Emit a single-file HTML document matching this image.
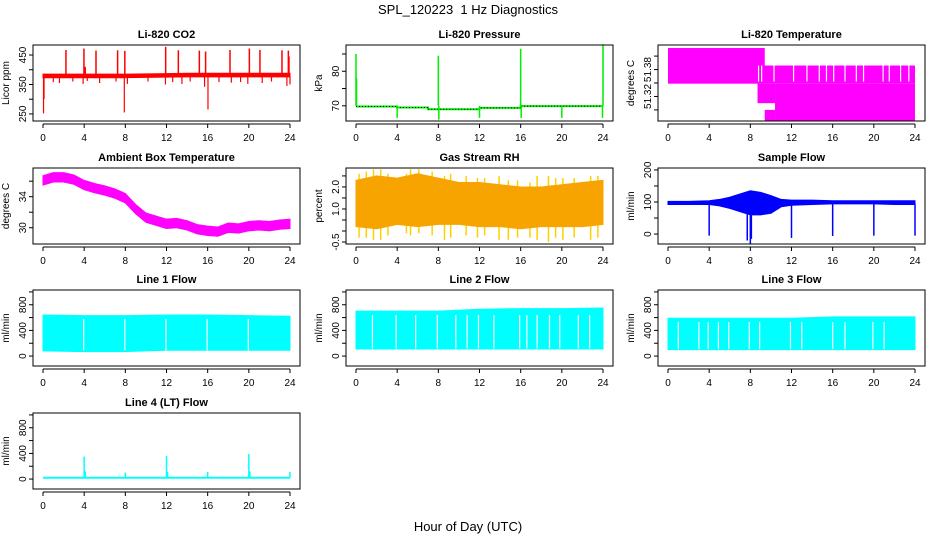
<!DOCTYPE html>
<html><head><meta charset="utf-8"><style>
body{margin:0;background:#fff;}
svg text{font-family:"Liberation Sans",Arial,sans-serif;}
</style></head><body>
<svg id="c" width="936" height="540" xmlns="http://www.w3.org/2000/svg">
<text x="468" y="14" text-anchor="middle" font-size="13" xml:space="preserve" style="white-space:pre">SPL_120223  1 Hz Diagnostics</text>
<text x="468" y="531" text-anchor="middle" font-size="13">Hour of Day (UTC)</text>
</svg>
<script>
// ---- data ----
const xTicks=[0,4,8,12,16,20,24];
// CO2
const co2Hours=[0,2,4,6,8,10,12,14,16,18,20,22,24];
const co2Lo=[373,373,373,373,373,374,375,376,376,376,376,376,376];
const co2Hi=[385,385,385,385,385,386,387,388,388,388,388,388,388];
const co2UpHours=[2.23,3.98,4.1,5.15,7.25,7.95,11.92,13.15,15.19,15.8,18.17,20.05,21.08,23.22,23.84,23.9];
const co2UpVals=[467,472,410,465,466,464,478,466,465,462,467,472,467,466,465,445];
const co2DnHours=[0.05,0.1,1,1.6,2.9,3.9,4.3,5.5,7.1,7.9,8.2,10.2,11.9,12.6,13.5,14.3,15.7,16.03,17.1,18.3,19.2,19.9,21.3,22.2,23.7,24];
const co2DnVals=[252,300,358,355,360,352,362,355,360,255,352,360,350,358,352,360,342,265,358,356,358,352,355,360,345,350];
// Pressure
const presHours=[0,4,4,7,7,12,12,16,16,24];
const presVals=[69.8,69.8,69.5,69.5,69.0,69.0,69.4,69.4,69.9,69.9];
const presSpikeHours=[0,0.05,4,8,8.05,12,16,16.05,20,24,23.95];
const presSpikeVals=[85,78,66.5,84.5,66,66.5,86.5,66.5,66.5,87.8,66.5];
// Li-820 temperature (bands of discrete values)
const ltStart=[0,8.7,8.7,9.4,10.4];
const ltEnd=[9.4,24,10.4,10.4,24];
const ltLo=[51.359,51.359,51.330,51.304,51.304];
const ltHi=[51.412,51.386,51.359,51.320,51.359];
const ltGapHours=[8.8,9.1,10.3,12.2,13.5,14.7,15.4,16.1,17.2,18.3,19.0,20.9,21.5,22.6,23.4];
// Ambient box temperature
const ambHours=[0,1,2,3,4,5,6,7,8,9,10,11,12,13,14,15,16,17,18,19,20,21,22,23,24];
const ambVals=[36.1,36.5,36.5,36.2,35.5,35.1,34.8,34.4,33.8,32.4,31.3,30.9,30.5,30.6,30.3,29.8,29.6,29.5,30.0,29.9,30.2,30.3,30.2,30.4,30.5];
// Gas stream RH
const rhHours=[0,2,4,6,8,10,12,14,16,18,20,22,24];
const rhLo=[0.2,0.1,0.3,0.2,0.3,0.3,0.2,0.2,0.1,0.2,0.2,0.2,0.3];
const rhHi=[2.3,2.5,2.4,2.6,2.4,2.2,2.2,2.1,2.0,2.0,2.1,2.2,2.3];
const rhSpikeHours=[0.3,1.0,1.7,2.4,3.1,4.9,5.3,6.1,7.4,8.6,9.2,10.7,11.8,12.5,13.9,14.8,15.7,16.9,17.6,18.7,19.4,20.1,21.2,22.8,23.5];
const rhSpikeHi=[2.6,2.7,2.8,2.8,2.6,2.6,2.8,2.8,2.7,2.5,2.6,2.5,2.4,2.4,2.5,2.3,2.3,2.2,2.5,2.5,2.4,2.4,2.4,2.5,2.5];
const rhSpikeLo=[-0.3,-0.3,-0.4,-0.4,-0.2,-0.1,-0.2,-0.1,-0.2,-0.4,-0.3,-0.2,-0.3,-0.2,-0.4,-0.4,-0.3,-0.3,-0.4,-0.5,-0.3,-0.4,-0.3,-0.4,-0.3];
// Sample flow
const sfHours=[0,2,4,5,6,7,8,9,10,11,12,14,16,18,20,22,24];
const sfLo=[92,92,92,88,80,70,60,60,65,85,90,92,94,94,94,92,92];
const sfHi=[102,102,104,108,115,125,135,130,120,108,106,106,104,104,104,104,104];
const sfDnHours=[4,7.7,8,8.1,12,16,20,24];
const sfDnVals=[-5,-20,-32,-15,-12,-6,-5,-5];
// Line flows
const l1Hours=[0,4,8,12,16,20,24];
const l1Hi=[640,630,630,640,640,630,620];
const l1Lo=[80,70,70,90,90,90,90];
const l1Gaps=[3.95,7.95,11.95,15.95,19.95];
const l2Hours=[0,4,8,12,16,20,24];
const l2Hi=[700,700,700,730,740,740,750];
const l2Lo=[110,110,110,110,110,110,110];
const l2Gaps=[1.6,3.9,5.8,7.9,9.7,10.8,11.9,13.4,15.9,16.6,17.6,18.8,19.8,21.6,22.7];
const l3Hours=[0,4,8,12,16,20,24];
const l3Hi=[590,590,590,590,610,610,610];
const l3Lo=[100,100,100,100,100,100,100];
const l3Gaps=[1.0,3.0,3.9,4.9,5.9,7.9,8.9,11.9,13.0,16.0,17.2,19.9,21.0];
// Line 4
const l4Hours=[4,4.1,8,12,12.1,16,20,20.1,24];
const l4Vals=[350,120,100,360,110,110,390,120,110];
const l4Base=20;

// ---- drawing ----
const NS='http://www.w3.org/2000/svg';
const svg=document.getElementById('c');
function mk(tag,attrs,parent){const e=document.createElementNS(NS,tag);for(const k in attrs)e.setAttribute(k,attrs[k]);(parent||svg).appendChild(e);return e;}
const colL=[33,346,658], W=267, rowT=[45,168,290,413], H=76;
function panel(col,row,title,ylab,ymin,ymax,yTicks,yLabels,name){
  const L=colL[col],T=rowT[row];
  const g=mk('g',{});
  
  
  const xs=h=>L+10+(h/24)*(W-20);
  const ys=v=>T+H-(v-ymin)/(ymax-ymin)*H;
  const t=mk('text',{x:L+W/2,y:T-7,'text-anchor':'middle','font-size':11,'font-weight':'bold'},g);t.textContent=title;
  
  
  const yl=mk('text',{x:0,y:0,'text-anchor':'middle','font-size':10,transform:`translate(${L-24},${T+H/2}) rotate(-90)`},g);yl.textContent=ylab;
  
  
  const plot=mk('g',{},g);
  const yt=yTicks.map(ys);
  mk('line',{x1:L,x2:L,y1:Math.min(...yt),y2:Math.max(...yt),stroke:'#000'},g);
  yTicks.forEach((v,i)=>{const y=ys(v);mk('line',{x1:L-4,x2:L,y1:y,y2:y,stroke:'#000'},g);
    if(yLabels[i]!==''){const tl=mk('text',{x:0,y:0,'text-anchor':'middle','font-size':10,transform:`translate(${L-7},${y}) rotate(-90)`},g);tl.textContent=yLabels[i];
    
    }});
  mk('line',{x1:xs(0),x2:xs(24),y1:T+H+3,y2:T+H+3,stroke:'#000'},g);
  xTicks.forEach(h=>{const x=xs(h);mk('line',{x1:x,x2:x,y1:T+H+3,y2:T+H+7,stroke:'#000'},g);
    const tl=mk('text',{x:x,y:T+H+20,'text-anchor':'middle','font-size':10},g);tl.textContent=h;
    
    });
  mk('rect',{x:L,y:T,width:W,height:H,fill:'none',stroke:'#000'},g);
  return {plot,xs,ys};
}
function band(p,hours,lo,hi,color,name){
  let d='M'+hours.map((h,i)=>p.xs(h)+','+p.ys(hi[i])).join(' L');
  d+=' L'+hours.map((h,i)=>p.xs(h)+','+p.ys(lo[i])).reverse().join(' L')+'Z';
  const e=mk('path',{d,fill:color,stroke:color,'stroke-width':1},p.plot);
  
  
}
function vlines(p,hours,from,to,color,w,name){
  hours.forEach((h,i)=>{const f=Array.isArray(from)?from[i]:from;
    const e=mk('line',{x1:p.xs(h),x2:p.xs(h),y1:p.ys(f),y2:p.ys(to[i]),stroke:color,'stroke-width':w},p.plot);
    
    });
}
// CO2
let p=panel(0,0,'Li-820 CO2','Licor ppm',226,484,[250,300,350,400,450],['250','','350','','450'],'co2');
band(p,co2Hours,co2Lo,co2Hi,'#ff0000','co2-series');
vlines(p,co2UpHours,380,co2UpVals,'#ff0000',1.5,'co2-spike');
vlines(p,co2DnHours,378,co2DnVals,'#ff0000',1.2,'co2-dip');
// Pressure
p=panel(1,0,'Li-820 Pressure','kPa',65.6,87.6,[70,75,80,85],['70','','80',''],'pressure');
{const pts=presHours.map((h,i)=>p.xs(h)+','+p.ys(presVals[i])).join(' ');
 const e=mk('polyline',{points:pts,fill:'none',stroke:'#00ee00','stroke-width':2},p.plot);
 
 
 const e2=mk('polyline',{points:pts,fill:'none',stroke:'#000','stroke-width':1,'stroke-dasharray':'1,2'},p.plot);
 
 }
vlines(p,presSpikeHours,70,presSpikeVals,'#00ee00',1.5,'pressure-spike');
// Li-820 temperature
p=panel(2,0,'Li-820 Temperature','degrees C',51.3035,51.4165,[51.40,51.38,51.36,51.34,51.32],['','51.38','','51.32',''],'licor-temp');
ltStart.forEach((s,i)=>{const e=mk('rect',{x:p.xs(s),y:p.ys(ltHi[i]),width:p.xs(ltEnd[i])-p.xs(s),height:p.ys(ltLo[i])-p.ys(ltHi[i]),fill:'#ff00ff'},p.plot);
 
 });
vlines(p,ltGapHours,51.386,ltGapHours.map(()=>51.362),'#ffffff',1.2,'licor-temp-gap');
// Ambient
p=panel(0,1,'Ambient Box Temperature','degrees C',27.9,37.7,[30,32,34,36],['30','','34',''],'ambient-temp');
band(p,ambHours,ambVals.map(v=>v-0.6),ambVals.map(v=>v+0.6),'#ff00ff','ambient-temp-series');
// RH
p=panel(1,1,'Gas Stream RH','percent',-0.59,2.86,[-0.5,0,0.5,1,1.5,2,2.5],['-0.5','','','1.0','','2.0',''],'gas-rh');
vlines(p,rhSpikeHours,rhSpikeLo,rhSpikeHi,'#ffd000',1.5,'gas-rh-spike');
band(p,rhHours,rhLo,rhHi,'#f8a400','gas-rh-series');
// Sample flow
p=panel(2,1,'Sample Flow','ml/min',-31,206,[0,50,100,150,200],['0','','100','','200'],'sample-flow');
band(p,sfHours,sfLo,sfHi,'#0000ff','sample-flow-series');
vlines(p,sfDnHours,95,sfDnVals,'#0000ff',1.5,'sample-flow-dip');
// Line flows
const fTicks=[0,200,400,600,800,1000],fLab=['0','','400','','800',''];
function lineFlow(col,title,hours,lo,hi,gaps,name){
  const q=panel(col,2,title,'ml/min',-155,1030,fTicks,fLab,name);
  band(q,hours,lo,hi,'#00ffff',name+'-series');
  vlines(q,gaps,hi[0]-60,gaps.map(()=>lo[0]+10),'#ffffff',1.2,name+'-gap');
}
lineFlow(0,'Line 1 Flow',l1Hours,l1Lo,l1Hi,l1Gaps,'line1-flow');
lineFlow(1,'Line 2 Flow',l2Hours,l2Lo,l2Hi,l2Gaps,'line2-flow');
lineFlow(2,'Line 3 Flow',l3Hours,l3Lo,l3Hi,l3Gaps,'line3-flow');
// Line 4
p=panel(0,3,'Line 4 (LT) Flow','ml/min',-155,1030,fTicks,fLab,'line4-flow');
{const e=mk('rect',{x:p.xs(0),y:p.ys(l4Base+15),width:p.xs(24)-p.xs(0),height:p.ys(l4Base-15)-p.ys(l4Base+15),fill:'#00ffff'},p.plot);
 
 }
vlines(p,l4Hours,l4Base,l4Vals,'#00ffff',1.5,'line4-flow-spike');
</script>
</body></html>
